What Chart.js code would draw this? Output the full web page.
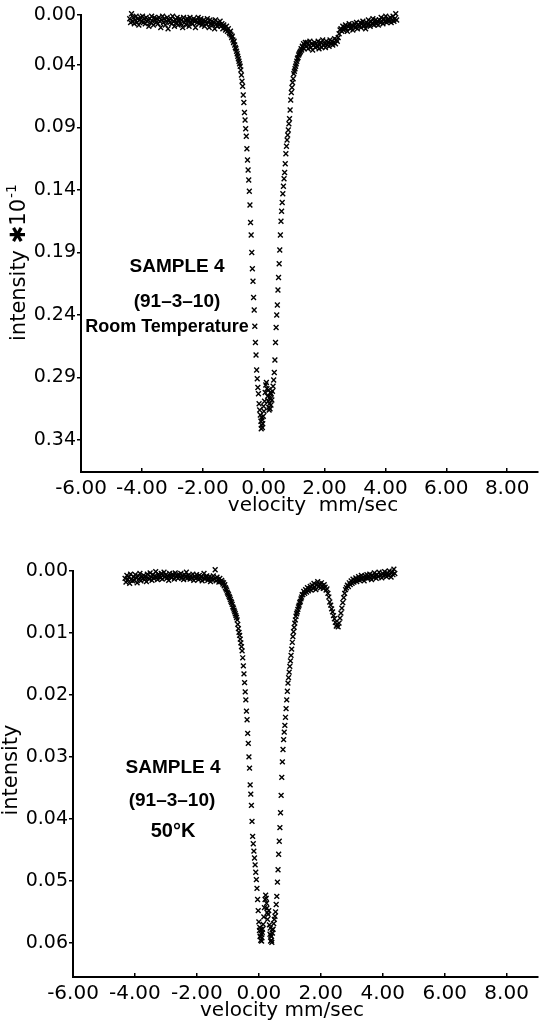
<!DOCTYPE html>
<html><head><meta charset="utf-8">
<script src="https://cdn.jsdelivr.net/npm/chart.js@4.4.1/dist/chart.umd.min.js"></script>
<style>
html,body{margin:0;padding:0;background:#fff;}
#wrap{position:relative;width:543px;height:1024px;overflow:hidden;}
canvas{position:absolute;left:0;}
</style></head><body>
<div id="wrap">
<canvas id="topChart" width="543" height="520" style="top:0"></canvas>
<canvas id="bottomChart" width="543" height="504" style="top:520px"></canvas>
</div>
<script>
// ---------- DATA ----------
const xTickValues = [-6, -4, -2, 0, 2, 4, 6, 8];
const xTickLabels = ['-6.00', '-4.00', '-2.00', '0.00', '2.00', '4.00', '6.00', '8.00'];
const topYTicks = [0, 0.04, 0.09, 0.14, 0.19, 0.24, 0.29, 0.34];
const topYTickLabels = ['0.00', '0.04', '0.09', '0.14', '0.19', '0.24', '0.29', '0.34'];
const bottomYTicks = [0, 0.01, 0.02, 0.03, 0.04, 0.05, 0.06];
const bottomYTickLabels = ['0.00', '0.01', '0.02', '0.03', '0.04', '0.05', '0.06'];

const topVelocity = [
-4.40,-4.37,-4.34,-4.31,-4.28,-4.25,-4.22,-4.19,-4.16,-4.13,
-4.10,-4.07,-4.04,-4.01,-3.98,-3.95,-3.92,-3.89,-3.86,-3.83,
-3.80,-3.77,-3.74,-3.71,-3.68,-3.65,-3.62,-3.59,-3.56,-3.53,
-3.50,-3.47,-3.44,-3.41,-3.38,-3.35,-3.32,-3.29,-3.26,-3.23,
-3.20,-3.17,-3.14,-3.11,-3.08,-3.05,-3.02,-2.99,-2.96,-2.93,
-2.90,-2.87,-2.84,-2.81,-2.78,-2.75,-2.72,-2.69,-2.66,-2.63,
-2.60,-2.57,-2.54,-2.51,-2.48,-2.45,-2.42,-2.39,-2.36,-2.33,
-2.30,-2.27,-2.24,-2.21,-2.18,-2.15,-2.12,-2.09,-2.06,-2.03,
-2.00,-1.97,-1.94,-1.91,-1.88,-1.85,-1.82,-1.79,-1.76,-1.73,
-1.70,-1.67,-1.64,-1.61,-1.58,-1.55,-1.52,-1.49,-1.46,-1.43,
-1.40,-1.37,-1.34,-1.31,-1.28,-1.25,-1.22,-1.19,-1.16,-1.13,
-1.11,-1.09,-1.07,-1.05,-1.03,-1.01,-0.99,-0.97,-0.95,-0.93,
-0.91,-0.89,-0.87,-0.85,-0.83,-0.81,-0.79,-0.77,-0.75,-0.73,
-0.71,-0.69,-0.67,-0.65,-0.63,-0.61,-0.59,-0.57,-0.55,-0.53,
-0.51,-0.49,-0.47,-0.45,-0.43,-0.41,-0.39,-0.37,-0.35,-0.33,
-0.31,-0.29,-0.27,-0.25,-0.23,-0.21,-0.19,-0.17,-0.15,-0.13,
-0.11,-0.09,-0.07,-0.05,-0.03,-0.01,0.01,0.03,0.05,0.07,
0.09,0.11,0.13,0.15,0.17,0.19,0.21,0.23,0.25,0.27,
0.29,0.31,0.33,0.35,0.37,0.39,0.41,0.43,0.45,0.47,
0.49,0.51,0.53,0.55,0.57,0.59,0.61,0.63,0.65,0.67,
0.69,0.71,0.73,0.75,0.77,0.79,0.81,0.83,0.85,0.87,
0.89,0.91,0.93,0.95,0.97,0.99,1.01,1.03,1.05,1.07,
1.09,1.11,1.13,1.15,1.17,1.19,1.21,1.23,1.25,1.27,
1.29,1.31,1.33,1.35,1.37,
-0.08,-0.06,-0.04,0.00,0.16,0.18,0.20,0.22,0.24,
1.40,1.43,1.46,1.49,1.52,1.55,1.58,1.61,1.64,1.67,
1.70,1.73,1.76,1.79,1.82,1.85,1.88,1.91,1.94,1.97,
2.00,2.03,2.06,2.09,2.12,2.15,2.18,2.21,2.24,2.27,
2.30,2.33,2.36,2.39,2.42,2.45,2.48,2.51,2.54,2.57,
2.60,2.63,2.66,2.69,2.72,2.75,2.78,2.81,2.84,2.87,
2.90,2.93,2.96,2.99,3.02,3.05,3.08,3.11,3.14,3.17,
3.20,3.23,3.26,3.29,3.32,3.35,3.38,3.41,3.44,3.47,
3.50,3.53,3.56,3.59,3.62,3.65,3.68,3.71,3.74,3.77,
3.80,3.83,3.86,3.89,3.92,3.95,3.98,4.01,4.04,4.07,
4.10,4.13,4.16,4.19,4.22,4.25,4.28,4.31,4.34,4.37
];
const topIntensity = [
0.003,0.006,-0.001,0.005,0.002,0.007,0.004,0.001,0.006,0.003,
0.008,0.004,0.002,0.005,0.001,0.006,0.003,0.007,0.002,0.005,
0.004,0.009,0.003,0.006,0.001,0.005,0.008,0.002,0.004,0.006,
0.003,0.007,0.002,0.005,0.010,0.004,0.001,0.006,0.003,0.008,
0.005,0.002,0.011,0.004,0.006,0.003,0.007,0.001,0.005,0.009,
0.004,0.006,0.002,0.008,0.005,0.003,0.007,0.004,0.010,0.002,
0.006,0.004,0.008,0.003,0.005,0.009,0.002,0.006,0.004,0.007,
0.003,0.005,0.010,0.004,0.006,0.002,0.007,0.005,0.003,0.008,
0.006,0.004,0.009,0.005,0.007,0.003,0.006,0.010,0.004,0.007,
0.005,0.008,0.006,0.011,0.004,0.007,0.009,0.006,0.008,0.005,
0.009,0.007,0.011,0.008,0.010,0.012,0.009,0.013,0.011,0.014,
0.015,0.013,0.016,0.018,0.017,0.020,0.022,0.021,0.024,0.026,
0.027,0.029,0.031,0.033,0.035,0.037,0.039,0.041,0.044,0.048,
0.053,0.057,0.064,0.070,0.078,0.084,0.091,0.097,0.107,0.116,
0.124,0.132,0.141,0.152,0.166,0.176,0.190,0.203,0.213,0.226,
0.236,0.249,0.262,0.272,0.284,0.291,0.298,0.303,0.311,0.316,
0.320,0.325,0.328,0.324,0.327,0.321,0.317,0.309,0.302,0.296,
0.294,0.299,0.305,0.309,0.314,0.311,0.315,0.307,0.303,0.308,
0.301,0.297,0.292,0.286,0.276,0.262,0.250,0.240,0.232,0.220,
0.210,0.199,0.188,0.176,0.165,0.157,0.150,0.143,0.137,0.131,
0.126,0.119,0.111,0.105,0.100,0.096,0.092,0.087,0.083,0.076,
0.068,0.062,0.058,0.054,0.051,0.047,0.045,0.043,0.041,0.039,
0.037,0.035,0.034,0.032,0.031,0.030,0.029,0.027,0.028,0.025,
0.026,0.023,0.027,0.024,0.022,
0.331,0.322,0.330,0.313,0.300,0.316,0.306,0.302,0.312,
0.025,0.022,0.027,0.024,0.021,0.026,0.023,0.028,0.024,0.022,
0.026,0.023,0.025,0.021,0.027,0.024,0.022,0.026,0.020,0.024,
0.023,0.026,0.021,0.024,0.022,0.025,0.020,0.023,0.021,0.024,
0.022,0.019,0.023,0.020,0.021,0.018,0.015,0.012,0.011,0.013,
0.009,0.012,0.010,0.008,0.011,0.013,0.009,0.007,0.011,0.010,
0.008,0.012,0.009,0.007,0.010,0.006,0.011,0.008,0.009,0.006,
0.010,0.007,0.005,0.009,0.008,0.011,0.006,0.008,0.004,0.007,
0.009,0.005,0.007,0.003,0.008,0.006,0.004,0.007,0.005,0.008,
0.004,0.006,0.002,0.005,0.007,0.003,0.005,0.001,0.006,0.004,
0.003,0.005,0.002,0.006,0.004,0.001,0.005,0.003,-0.001,0.004
];

const bottomVelocity = [
-4.32,-4.29,-4.26,-4.23,-4.20,-4.17,-4.14,-4.11,-4.08,-4.05,
-4.02,-3.99,-3.96,-3.93,-3.90,-3.87,-3.84,-3.81,-3.78,-3.75,
-3.72,-3.69,-3.66,-3.63,-3.60,-3.57,-3.54,-3.51,-3.48,-3.45,
-3.42,-3.39,-3.36,-3.33,-3.30,-3.27,-3.24,-3.21,-3.18,-3.15,
-3.12,-3.09,-3.06,-3.03,-3.00,-2.97,-2.94,-2.91,-2.88,-2.85,
-2.82,-2.79,-2.76,-2.73,-2.70,-2.67,-2.64,-2.61,-2.58,-2.55,
-2.52,-2.49,-2.46,-2.43,-2.40,-2.37,-2.34,-2.31,-2.28,-2.25,
-2.22,-2.19,-2.16,-2.13,-2.10,-2.07,-2.04,-2.01,-1.98,-1.95,
-1.92,-1.89,-1.86,-1.83,-1.80,-1.77,-1.74,-1.71,-1.68,-1.65,
-1.62,-1.59,-1.56,-1.53,-1.50,-1.47,-1.44,-1.41,-1.38,-1.35,
-1.32,-1.29,-1.26,-1.23,-1.20,
-1.18,-1.16,-1.14,-1.12,-1.10,-1.08,-1.06,-1.04,-1.02,-1.00,
-0.98,-0.96,-0.94,-0.92,-0.90,-0.88,-0.86,-0.84,-0.82,-0.80,
-0.78,-0.76,-0.74,-0.72,-0.70,-0.68,-0.66,-0.64,-0.62,-0.60,
-0.58,-0.56,-0.54,-0.52,-0.50,-0.48,-0.46,-0.44,-0.42,-0.40,
-0.38,-0.36,-0.34,-0.32,-0.30,-0.28,-0.26,-0.24,-0.22,-0.20,
-0.18,-0.16,-0.14,-0.12,-0.10,-0.08,-0.06,-0.04,-0.02,0.00,
0.02,0.04,0.06,0.08,0.10,0.12,0.14,0.16,0.18,0.20,
0.22,0.24,0.26,0.28,0.30,0.32,0.34,0.36,0.38,0.40,
0.42,0.44,0.46,0.48,0.50,0.52,0.54,0.56,0.58,0.60,
0.62,0.64,0.66,0.68,0.70,0.72,0.74,0.76,0.78,0.80,
0.82,0.84,0.86,0.88,0.90,0.92,0.94,0.96,0.98,1.00,
1.02,1.04,1.06,1.08,1.10,1.12,1.14,1.16,1.18,1.20,
1.22,1.24,1.26,1.28,1.30,1.32,1.34,1.36,1.38,1.40,
0.03,0.05,0.07,0.09,0.11,0.25,0.27,0.37,0.39,0.41,0.43,
1.42,1.45,1.48,1.51,1.54,1.57,1.60,1.63,1.66,1.69,
1.72,1.75,1.78,1.81,1.84,1.87,1.90,1.93,1.96,1.99,
2.02,2.05,2.08,2.11,2.14,2.17,2.20,2.23,2.26,2.29,
2.32,2.35,2.38,2.41,2.44,2.47,2.50,2.53,2.56,2.59,
2.62,2.65,2.68,2.71,2.74,2.77,2.80,2.83,2.86,2.89,
2.92,2.95,2.98,3.01,3.04,3.07,3.10,3.13,3.16,3.19,
3.22,3.25,3.28,3.31,3.34,3.37,3.40,3.43,3.46,3.49,
3.52,3.55,3.58,3.61,3.64,3.67,3.70,3.73,3.76,3.79,
3.82,3.85,3.88,3.91,3.94,3.97,4.00,4.03,4.06,4.09,
4.12,4.15,4.18,4.21,4.24,4.27,4.30,4.33,4.36,4.39
];
const bottomIntensity = [
0.0012,0.0018,0.0007,0.0014,0.0010,0.0020,0.0005,0.0013,0.0016,0.0009,
0.0015,0.0006,0.0011,0.0019,0.0008,0.0013,0.0004,0.0016,0.0010,0.0012,
0.0007,0.0014,0.0009,0.0017,0.0005,0.0011,0.0013,0.0003,0.0010,0.0015,
0.0006,0.0012,0.0008,0.0001,0.0010,0.0014,0.0005,0.0009,0.0011,0.0004,
0.0013,0.0007,0.0002,0.0010,0.0006,0.0012,0.0008,0.0015,0.0004,0.0009,
0.0011,0.0005,0.0008,0.0013,0.0003,0.0009,0.0007,0.0012,0.0006,0.0010,
0.0004,0.0011,0.0008,0.0014,0.0006,0.0009,0.0002,0.0012,0.0007,0.0010,
0.0013,0.0008,0.0011,0.0005,0.0015,0.0009,0.0012,0.0006,0.0010,0.0014,
0.0007,0.0012,0.0009,0.0016,0.0011,0.0004,0.0013,0.0010,0.0008,0.0015,
0.0012,0.0009,0.0017,0.0011,0.0014,0.0008,0.0013,-0.0002,0.0016,0.0010,
0.0014,0.0018,0.0012,0.0017,0.0015,
0.0018,0.0021,0.0019,0.0024,0.0022,0.0027,0.0029,0.0031,0.0034,0.0036,
0.0038,0.0041,0.0043,0.0046,0.0049,0.0051,0.0054,0.0058,0.0060,0.0063,
0.0066,0.0069,0.0072,0.0075,0.0079,0.0086,0.0093,0.0099,0.0104,0.0110,
0.0116,0.0122,0.0129,0.0140,0.0153,0.0166,0.0180,0.0195,0.0208,0.0226,
0.0240,0.0262,0.0278,0.0300,0.0318,0.0345,0.0360,0.0378,0.0404,0.0428,
0.0440,0.0452,0.0463,0.0474,0.0486,0.0498,0.0512,0.0530,0.0548,0.0566,
0.0580,0.0590,0.0596,0.0586,0.0592,0.0578,0.0570,0.0558,0.0543,0.0530,
0.0523,0.0528,0.0544,0.0562,0.0554,0.0548,0.0571,0.0586,0.0597,0.0590,
0.0599,0.0584,0.0578,0.0569,0.0562,0.0557,0.0550,0.0538,0.0525,0.0502,
0.0482,0.0457,0.0436,0.0414,0.0390,0.0362,0.0333,0.0308,0.0288,0.0272,
0.0260,0.0249,0.0236,0.0222,0.0208,0.0194,0.0181,0.0172,0.0163,0.0154,
0.0145,0.0136,0.0126,0.0115,0.0106,0.0098,0.0091,0.0084,0.0079,0.0073,
0.0069,0.0066,0.0062,0.0058,0.0055,0.0051,0.0049,0.0045,0.0042,0.0038,
0.0575,0.0589,0.0578,0.0597,0.0583,0.0536,0.0551,0.0576,0.0588,0.0596,0.0579,
0.0038,0.0033,0.0036,0.0030,0.0034,0.0027,0.0032,0.0029,0.0025,0.0031,
0.0023,0.0028,0.0020,0.0026,0.0030,0.0022,0.0017,0.0025,0.0021,0.0027,
0.0019,0.0024,0.0028,0.0022,0.0026,0.0031,0.0029,0.0036,0.0042,0.0050,
0.0055,0.0061,0.0066,0.0072,0.0077,0.0083,0.0089,0.0086,0.0090,0.0084,
0.0076,0.0068,0.0060,0.0051,0.0043,0.0036,0.0030,0.0027,0.0023,0.0025,
0.0019,0.0022,0.0016,0.0020,0.0013,0.0018,0.0015,0.0011,0.0017,0.0014,
0.0009,0.0015,0.0012,0.0007,0.0013,0.0010,0.0016,0.0008,0.0011,0.0006,
0.0012,0.0009,0.0005,0.0011,0.0014,0.0007,0.0010,0.0003,0.0008,0.0012,
0.0006,0.0009,0.0002,-0.0010,0.0007,0.0011,0.0004,0.0008,0.0001,0.0006,
0.0009,0.0003,0.0007,0.0000,0.0005,0.0010,0.0002,0.0006,-0.0003,0.0004
];

// ---------- TEXT PLUGIN ----------
const textPlugin = {
  id: 'texts',
  afterDraw(chart, args, opts) {
    const ctx = chart.ctx;
    (opts.items || []).forEach(it => {
      ctx.save();
      ctx.fillStyle = '#000';
      ctx.font = it.font;
      ctx.textBaseline = 'middle';
      ctx.translate(it.x, it.y);
      if (it.rotate) ctx.rotate(-Math.PI / 2);
      if (it.sup) {
        const w1 = ctx.measureText(it.text).width;
        ctx.font = it.supFont;
        const w2 = ctx.measureText(it.sup).width;
        ctx.font = it.font;
        ctx.textAlign = 'left';
        const start = -(w1 + w2) / 2;
        ctx.fillText(it.text, start, 0);
        ctx.font = it.supFont;
        ctx.fillText(it.sup, start + w1 + 1, -8);
      } else {
        ctx.textAlign = 'center';
        ctx.fillText(it.text, 0, 0);
      }
      ctx.restore();
    });
  }
};

function build(id, cfg) {
  const points = cfg.vel.map((v, i) => ({ x: v, y: cfg.inten[i] }));
  return new Chart(document.getElementById(id), {
    type: 'scatter',
    data: { datasets: [{
      data: points,
      pointStyle: 'crossRot',
      pointRadius: 3.4,
      pointBorderWidth: 1.4,
      pointBorderColor: '#000',
      pointBackgroundColor: '#000',
      borderColor: '#000',
      clip: false
    }]},
    options: {
      responsive: false,
      animation: false,
      devicePixelRatio: 1,
      events: [],
      layout: { padding: { left: 0, top: cfg.padTop, right: cfg.padRight, bottom: 0 } },
      plugins: { legend: { display: false }, tooltip: { enabled: false }, texts: { items: cfg.texts } },
      scales: {
        x: {
          type: 'linear', min: -6, max: 9,
          afterBuildTicks: s => { s.ticks = xTickValues.map(v => ({ value: v })); },
          afterFit: s => { s.height = cfg.xHeight; },
          ticks: { autoSkip: false, maxRotation: 0, padding: 9, color: '#000',
                   font: { family: 'DejaVu Sans', size: 20 },
                   callback: (v, i) => xTickLabels[i] },
          grid: { display: true, drawOnChartArea: false, drawTicks: true, tickLength: -4, color: '#000', lineWidth: 1.5 },
          border: { display: true, color: '#000', width: 2 }
        },
        y: {
          type: 'linear', reverse: true, min: 0, max: cfg.yMax,
          afterBuildTicks: s => { s.ticks = cfg.yTicks.map(v => ({ value: v })); },
          afterFit: s => { s.width = cfg.yWidth; },
          ticks: { autoSkip: false, padding: 1, color: '#000',
                   font: { family: 'DejaVu Sans', size: 19 },
                   callback: (v, i) => cfg.yLabels[i] },
          grid: { display: true, drawOnChartArea: false, drawTicks: true, tickLength: 4, color: '#000', lineWidth: 1.5 },
          border: { display: true, color: '#000', width: 2 }
        }
      }
    },
    plugins: [textPlugin]
  });
}

const annFont = 'bold 19px "Liberation Sans"';
build('topChart', {
  vel: topVelocity, inten: topIntensity,
  yTicks: topYTicks, yLabels: topYTickLabels, yMax: 0.3656,
  padTop: 15, padRight: 1, xHeight: 48, yWidth: 81,
  texts: [
    { text: 'SAMPLE 4', x: 177, y: 267, font: annFont },
    { text: '(91–3–10)', x: 177, y: 302, font: annFont },
    { text: 'Room Temperature', x: 167, y: 327, font: 'bold 18px "Liberation Sans"' },
    { text: 'velocity  mm/sec', x: 313, y: 506, font: '20px "DejaVu Sans"' },
    { text: 'intensity ✱10', sup: '-1', x: 20, y: 263, rotate: true,
      font: '21px "DejaVu Sans"', supFont: '14px "DejaVu Sans"' }
  ]
});
build('bottomChart', {
  vel: bottomVelocity, inten: bottomIntensity,
  yTicks: bottomYTicks, yLabels: bottomYTickLabels, yMax: 0.0655,
  padTop: 51, padRight: 5, xHeight: 47, yWidth: 73,
  texts: [
    { text: 'SAMPLE 4', x: 173, y: 248, font: annFont },
    { text: '(91–3–10)', x: 172, y: 281, font: annFont },
    { text: '50°K', x: 173, y: 311, font: 'bold 20px "Liberation Sans"' },
    { text: 'velocity mm/sec', x: 282, y: 491, font: '20px "DejaVu Sans"' },
    { text: 'intensity', x: 12, y: 250, rotate: true, font: '21px "DejaVu Sans"' }
  ]
});
</script>
</body></html>
